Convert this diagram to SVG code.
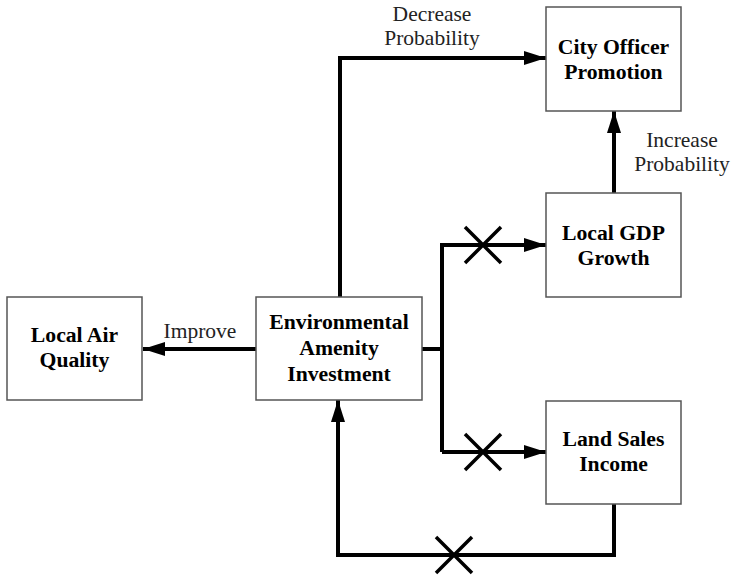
<svg xmlns="http://www.w3.org/2000/svg" width="735" height="581" viewBox="0 0 735 581">
<style>
.box{fill:#fff;stroke:#555;stroke-width:1.5}
.nt{font-family:"Liberation Serif","Times New Roman",serif;font-size:21.7px;font-weight:bold;text-anchor:middle;fill:#000}
.lb{font-family:"Liberation Serif","Times New Roman",serif;font-size:21.5px;text-anchor:middle;fill:#222}
.ln{fill:none;stroke:#000;stroke-width:4;stroke-linejoin:miter}
.x{stroke:#000;stroke-width:3.5}
</style>
<defs>
<marker id="ah" markerUnits="userSpaceOnUse" markerWidth="24" markerHeight="16" refX="22" refY="7" orient="auto">
<path d="M0,0 L22,7 L0,14 z" fill="#000"/>
</marker>
</defs>
<rect width="735" height="581" fill="#fff"/>
<g id="connectors">
<path class="ln" d="M340,297 V58 H546" marker-end="url(#ah)"/>
<path class="ln" d="M256,349 H143" marker-end="url(#ah)"/>
<path class="ln" d="M422,349 H442"/>
<path class="ln" d="M442,452 V245 H546" marker-end="url(#ah)"/>
<path class="ln" d="M442,452 H546" marker-end="url(#ah)"/>
<path class="ln" d="M614,193 V111" marker-end="url(#ah)"/>
<path class="ln" d="M614,504 V555 H338 V400" marker-end="url(#ah)"/>
<path class="x" d="M465,227 L501,263 M501,227 L465,263"/>
<path class="x" d="M465,434 L501,470 M501,434 L465,470"/>
<path class="x" d="M436,537 L472,573 M472,537 L436,573"/>
<text class="lb" x="432" y="21">Decrease</text>
<text class="lb" x="432" y="45">Probability</text>
<text class="lb" x="682" y="147">Increase</text>
<text class="lb" x="682" y="171">Probability</text>
<text class="lb" x="200" y="338">Improve</text>
</g>
<g id="city">
<rect class="box" x="546" y="7" width="135" height="104"/>
<text class="nt" x="613.5" y="54">City Officer</text>
<text class="nt" x="613.5" y="79">Promotion</text>
</g>
<g id="gdp">
<rect class="box" x="546" y="193" width="135" height="104"/>
<text class="nt" x="613.5" y="240">Local GDP</text>
<text class="nt" x="613.5" y="265">Growth</text>
</g>
<g id="land">
<rect class="box" x="546" y="401" width="135" height="103"/>
<text class="nt" x="613.5" y="446">Land Sales</text>
<text class="nt" x="613.5" y="471">Income</text>
</g>
<g id="env">
<rect class="box" x="256" y="297" width="166" height="103"/>
<text class="nt" x="339" y="329">Environmental</text>
<text class="nt" x="339" y="355">Amenity</text>
<text class="nt" x="339" y="381">Investment</text>
</g>
<g id="air">
<rect class="box" x="7" y="297" width="135" height="103"/>
<text class="nt" x="74.5" y="342">Local Air</text>
<text class="nt" x="74.5" y="367">Quality</text>
</g>
</svg>
